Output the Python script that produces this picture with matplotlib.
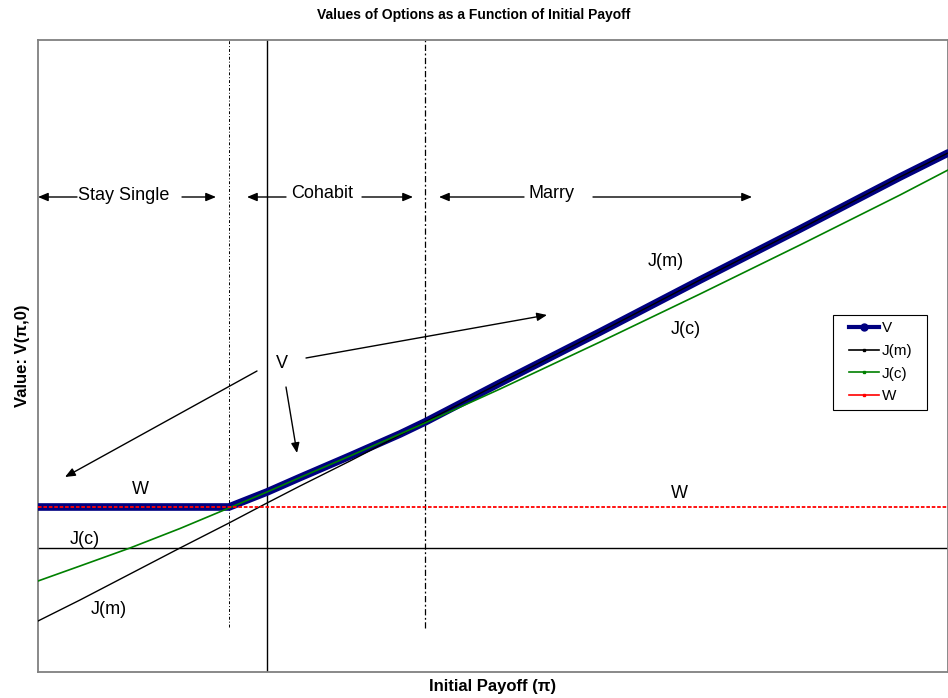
import matplotlib
matplotlib.use('Agg')
import matplotlib.pyplot as plt
from matplotlib.lines import Line2D
from matplotlib.legend_handler import HandlerLine2D

plt.rcParams['font.family'] = ['Liberation Sans', 'DejaVu Sans']

# initial payoff (no tick labels on the original, arbitrary units)
payoff = [-2.29, -1.87, -1.37, -0.87, -0.38, 0.0, 0.33, 0.83, 1.33, 1.58,
          2.33, 3.33, 4.33, 5.33, 6.33, 6.81]
# option values
val_V = [0.41, 0.41, 0.41, 0.41, 0.41, 0.56, 0.705, 0.92, 1.14, 1.26,
         1.65, 2.16, 2.68, 3.19, 3.71, 3.95]
val_Jm = [-0.73, -0.52, -0.26, 0.0, 0.25, 0.45, 0.62, 0.87, 1.13, 1.26,
          1.65, 2.16, 2.68, 3.19, 3.71, 3.95]
val_Jc = [-0.33, -0.18, 0.0, 0.195, 0.40, 0.56, 0.705, 0.92, 1.14, 1.25,
          1.59, 2.06, 2.54, 3.03, 3.53, 3.78]
val_W = [0.41] * len(payoff)

series = ['V', 'J(m)', 'J(c)', 'W']
colors = ['#000080', 'black', '#008000', '#FF0000']

# regime boundaries
cut_single = -0.38
cut_marry = 1.58

fig = plt.figure(figsize=(9.48, 6.98), dpi=100)
ax = fig.add_axes([38/948., 1 - 672/698., 910/948., 632/698.])

ax.plot(payoff, val_V, color=colors[0], lw=5.5, solid_capstyle='round', zorder=3)
ax.plot(payoff, val_Jm, color=colors[1], lw=1.0, zorder=4)
ax.plot(payoff, val_Jc, color=colors[2], lw=1.2, zorder=5)
ax.plot(payoff, val_W, color=colors[3], lw=1.3, ls=(0, (2, 1)), zorder=6)

ax.set_xlim(-2.29, 6.81)
ax.set_ylim(-1.24, 5.08)

# axes through the origin and the regime cut offs
ax.axhline(0, color='black', lw=1, zorder=2)
ax.axvline(0, color='black', lw=1, zorder=2)
ax.plot([cut_single, cut_single], [-0.79, 5.08], color='black', lw=0.7,
        ls=(0, (3, 2, 1, 2)), zorder=2)
ax.plot([cut_marry, cut_marry], [-0.80, 5.08], color='black', lw=0.9,
        ls=(0, (5, 2, 1.5, 2)), zorder=2)

ax.set_xticks([])
ax.set_yticks([])
for s in ax.spines.values():
    s.set_color('#808080')
    s.set_linewidth(1.3)

fig.suptitle('Values of Options as a Function of Initial Payoff',
             fontsize=10, fontweight='bold', x=0.5, y=1 - 15/698., va='center')
ax.set_xlabel('Initial Payoff (\u03c0)', fontsize=12, fontweight='bold', labelpad=5)
ax.set_ylabel('Value: V(\u03c0,0)', fontsize=12, fontweight='bold', labelpad=6)

aprops = dict(arrowstyle='-|>,head_length=0.6,head_width=0.25', color='black',
              lw=1, shrinkA=0, shrinkB=0, mutation_scale=10)

def arrow(x0, y0, x1, y1):
    ax.annotate('', xy=(x1, y1), xytext=(x0, y0), arrowprops=aprops, zorder=7)

# regime labels
ax.text(-1.43, 3.52, 'Stay Single', fontsize=13, ha='center', va='center')
arrow(-1.90, 3.51, -2.29, 3.51)
arrow(-0.85, 3.51, -0.51, 3.51)
ax.text(0.55, 3.55, 'Cohabit', fontsize=13, ha='center', va='center')
arrow(0.19, 3.51, -0.20, 3.51)
arrow(0.95, 3.51, 1.46, 3.51)
ax.text(2.84, 3.55, 'Marry', fontsize=13, ha='center', va='center')
arrow(2.57, 3.51, 1.72, 3.51)
arrow(3.26, 3.51, 4.85, 3.51)

# V with its three arrows
ax.text(0.15, 1.85, 'V', fontsize=13, ha='center', va='center')
arrow(-0.10, 1.77, -2.02, 0.71)
arrow(0.19, 1.61, 0.30, 0.95)
arrow(0.39, 1.90, 2.80, 2.33)

# curve labels
ax.text(3.99, 2.86, 'J(m)', fontsize=13, ha='center', va='center')
ax.text(4.19, 2.18, 'J(c)', fontsize=13, ha='center', va='center')
ax.text(-1.27, 0.59, 'W', fontsize=13, ha='center', va='center')
ax.text(4.12, 0.54, 'W', fontsize=13, ha='center', va='center')
ax.text(-1.82, 0.09, 'J(c)', fontsize=13, ha='center', va='center')
ax.text(-1.58, -0.61, 'J(m)', fontsize=13, ha='center', va='center')

handles = [Line2D([], [], color=colors[0], lw=3, marker='o', ms=5),
           Line2D([], [], color=colors[1], lw=1.2, marker='s', ms=2),
           Line2D([], [], color=colors[2], lw=1.2, marker='s', ms=2),
           Line2D([], [], color=colors[3], lw=1.2, marker='s', ms=2)]
leg = ax.legend(handles, series, loc='upper left',
                bbox_to_anchor=(0.874, 0.421, 0.103, 0.144), mode='expand',
                fontsize=11, frameon=True, fancybox=False, framealpha=1,
                edgecolor='black', borderpad=0.42, labelspacing=0.57,
                handlelength=2.55, handletextpad=0.2, borderaxespad=0,
                handler_map={Line2D: HandlerLine2D(xpad=0.59)})
leg.get_frame().set_linewidth(0.8)
leg.set_zorder(10)

fig.savefig('out.png', dpi=100)
